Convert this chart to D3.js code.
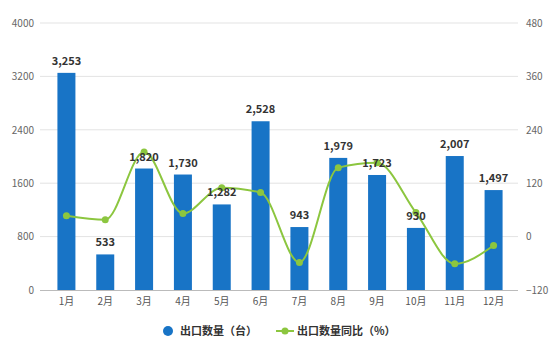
<!DOCTYPE html>
<html>
<head>
<meta charset="utf-8">
<script src="https://cdn.jsdelivr.net/npm/d3@7/dist/d3.min.js"></script>
<style>
  body { margin: 0; background: #fff; }
  text { font-family: "Noto Sans CJK SC", "DejaVu Sans", sans-serif; }
</style>
</head>
<body>
<div id="viz"></div>
<script>
// Data
const months = ["1月", "2月", "3月", "4月", "5月", "6月", "7月", "8月", "9月", "10月", "11月", "12月"];
const exportQty = [3253, 533, 1820, 1730, 1282, 2528, 943, 1979, 1723, 930, 2007, 1497];
const exportYoY = [47, 38, 190, 52, 110, 99, -58, 155, 166, 54, -61, -20];
const leftTicks = [0, 800, 1600, 2400, 3200, 4000];
const rightTicks = [-120, 0, 120, 240, 360, 480];

const width = 560;
const height = 352;
const plot = { left: 40, right: 518, top: 23, bottom: 290 };

const svg = d3.select("#viz")
    .append("svg")
    .attr("width", width)
    .attr("height", height)
    .style("background", "#fff");

// Scales
const xScale = d3.scaleBand()
    .domain(months)
    .range([47, 513]);

const yLeft = d3.scaleLinear()
    .domain([0, 4000])
    .range([plot.bottom, plot.top]);

const yRight = d3.scaleLinear()
    .domain([-120, 480])
    .range([plot.bottom, plot.top]);

// Gridlines
svg.append("g")
    .selectAll("line")
    .data(leftTicks.slice(1))
    .enter().append("line")
    .attr("x1", plot.left)
    .attr("x2", plot.right)
    .attr("y1", d => yLeft(d))
    .attr("y2", d => yLeft(d))
    .attr("stroke", "#e3e3e3")
    .attr("stroke-width", 1);

// Left axis
const leftAxis = svg.append("g")
    .attr("transform", `translate(${plot.left},0)`)
    .call(d3.axisLeft(yLeft).tickValues(leftTicks).tickFormat(d3.format("d")).tickSize(0).tickPadding(6));
leftAxis.select(".domain").remove();
leftAxis.selectAll("text").attr("fill", "#666").attr("font-size", 10);

// Right axis
const rightAxis = svg.append("g")
    .attr("transform", `translate(${plot.right},0)`)
    .call(d3.axisRight(yRight).tickValues(rightTicks).tickFormat(d3.format("d")).tickSize(0).tickPadding(8));
rightAxis.select(".domain").remove();
rightAxis.selectAll("text").attr("fill", "#666").attr("font-size", 10);

// Bottom axis
const bottomAxis = svg.append("g")
    .attr("transform", `translate(0,${plot.bottom})`)
    .call(d3.axisBottom(xScale).tickSize(0).tickPadding(8));
bottomAxis.select(".domain").remove();
bottomAxis.selectAll("text").attr("fill", "#555").attr("font-size", 10);

svg.append("line")
    .attr("x1", plot.left)
    .attr("x2", plot.right)
    .attr("y1", plot.bottom + 0.5)
    .attr("y2", plot.bottom + 0.5)
    .attr("stroke", "#bbb");

// Bars
const barW = 18;
svg.append("g")
    .selectAll("rect")
    .data(exportQty)
    .enter().append("rect")
    .attr("x", (d, i) => xScale(months[i]) + xScale.bandwidth() / 2 - barW / 2)
    .attr("y", d => yLeft(d))
    .attr("width", barW)
    .attr("height", d => plot.bottom - yLeft(d))
    .attr("fill", "#1874c6");

// Line
const line = d3.line()
    .x((d, i) => xScale(months[i]) + xScale.bandwidth() / 2)
    .y(d => yRight(d))
    .curve(d3.curveMonotoneX);

svg.append("path")
    .datum(exportYoY)
    .attr("d", line)
    .attr("fill", "none")
    .attr("stroke", "#8cc63f")
    .attr("stroke-width", 2);

svg.append("g")
    .selectAll("circle")
    .data(exportYoY)
    .enter().append("circle")
    .attr("cx", (d, i) => xScale(months[i]) + xScale.bandwidth() / 2)
    .attr("cy", d => yRight(d))
    .attr("r", 3.5)
    .attr("fill", "#8cc63f");

// Bar labels
const fmt = d3.format(",");
svg.append("g")
    .selectAll("text")
    .data(exportQty)
    .enter().append("text")
    .attr("x", (d, i) => xScale(months[i]) + xScale.bandwidth() / 2)
    .attr("y", d => yLeft(d) - 8)
    .attr("text-anchor", "middle")
    .attr("font-size", 11)
    .attr("font-weight", "bold")
    .attr("fill", "#333")
    .text(d => fmt(d));

// Legend
const legend = svg.append("g");
legend.append("circle")
    .attr("cx", 168).attr("cy", 331).attr("r", 5)
    .attr("fill", "#1874c6");
legend.append("text")
    .attr("x", 180).attr("y", 335)
    .attr("font-size", 11).attr("font-weight", "bold").attr("fill", "#333")
    .text("出口数量（台）");
legend.append("line")
    .attr("x1", 276).attr("x2", 294).attr("y1", 331).attr("y2", 331)
    .attr("stroke", "#8cc63f").attr("stroke-width", 2);
legend.append("circle")
    .attr("cx", 285).attr("cy", 331).attr("r", 3.5)
    .attr("fill", "#8cc63f");
legend.append("text")
    .attr("x", 297).attr("y", 335)
    .attr("font-size", 11).attr("font-weight", "bold").attr("fill", "#333")
    .text("出口数量同比（%）");
</script>
</body>
</html>
